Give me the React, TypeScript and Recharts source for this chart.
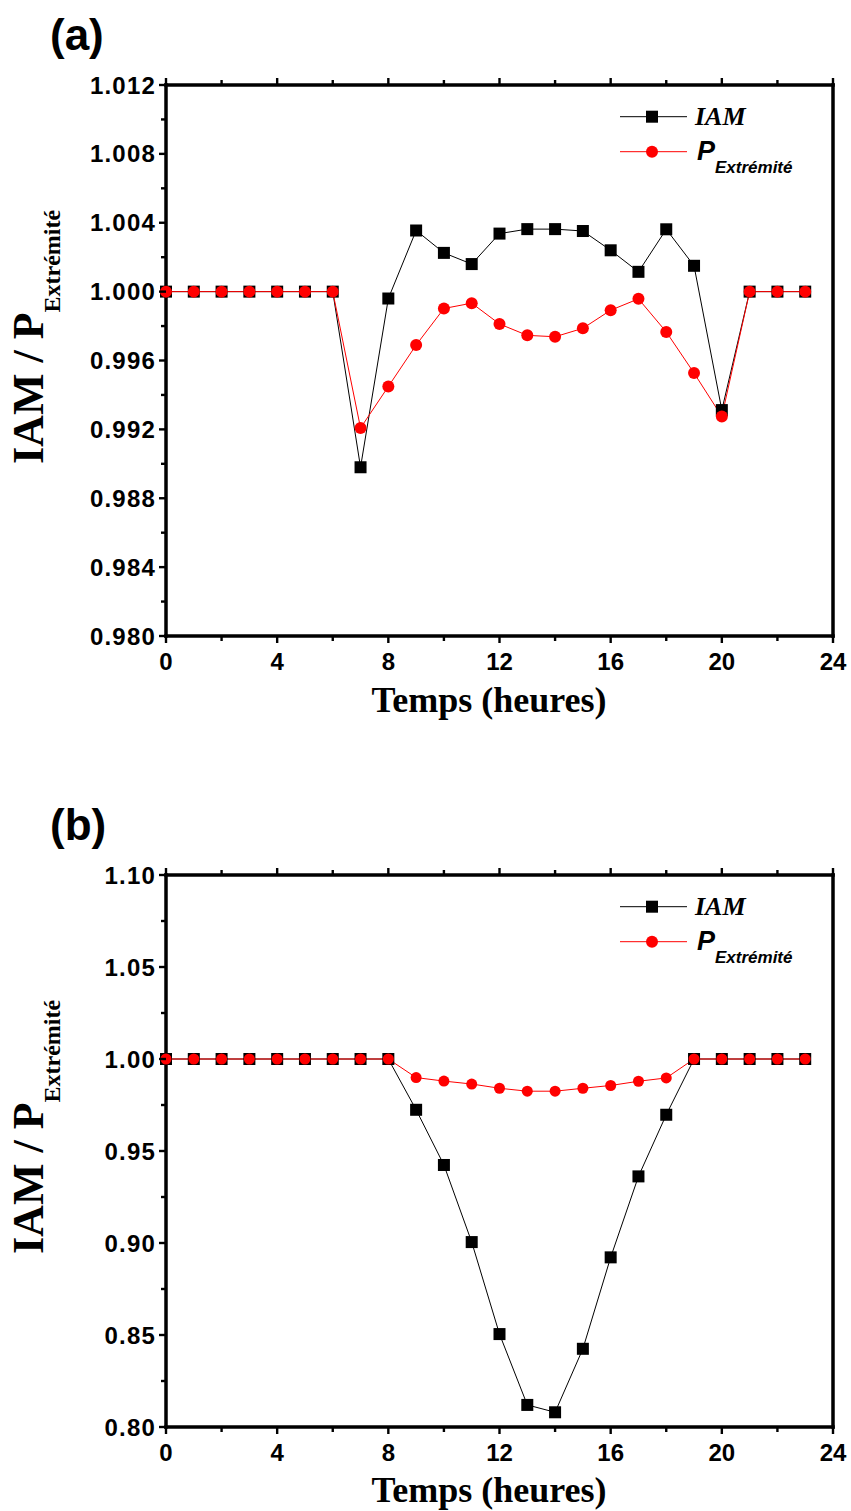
import React from 'react';
import { LineChart, Line, XAxis, YAxis, Legend } from 'recharts';

const hours = [0, 1, 2, 3, 4, 5, 6, 7, 8, 9, 10, 11, 12, 13, 14, 15, 16, 17, 18, 19, 20, 21, 22, 23];

const iamA = [1.0, 1.0, 1.0, 1.0, 1.0, 1.0, 1.0, 0.9898, 0.9996, 1.00355, 1.00225, 1.0016, 1.00337, 1.00363, 1.00363, 1.00352, 1.0024, 1.00115, 1.00362, 1.0015, 0.99312, 1.0, 1.0, 1.0];
const pA = [1.0, 1.0, 1.0, 1.0, 1.0, 1.0, 1.0, 0.99208, 0.99449, 0.9969, 0.99902, 0.99933, 0.99812, 0.99746, 0.99738, 0.99787, 0.99892, 0.99958, 0.99766, 0.99527, 0.99275, 1.0, 1.0, 1.0];

const iamB = [1.0, 1.0, 1.0, 1.0, 1.0, 1.0, 1.0, 1.0, 1.0, 0.9724, 0.9424, 0.9005, 0.8505, 0.812, 0.808, 0.8425, 0.8922, 0.9362, 0.9697, 1.0, 1.0, 1.0, 1.0, 1.0];
const pB = [1.0, 1.0, 1.0, 1.0, 1.0, 1.0, 1.0, 1.0, 1.0, 0.9899, 0.988, 0.9864, 0.9841, 0.9825, 0.9825, 0.9841, 0.9856, 0.9879, 0.9897, 1.0, 1.0, 1.0, 1.0, 1.0];

const xTicks = [0, 2, 4, 6, 8, 10, 12, 14, 16, 18, 20, 22, 24];
const yTicksA = [0.98, 0.982, 0.984, 0.986, 0.988, 0.99, 0.992, 0.994, 0.996, 0.998, 1.0, 1.002, 1.004, 1.006, 1.008, 1.01, 1.012];
const yTicksB = [0.8, 0.825, 0.85, 0.875, 0.9, 0.925, 0.95, 0.975, 1.0, 1.025, 1.05, 1.075, 1.1];

const dataA = hours.map((h, i) => ({ h, iam: iamA[i], p: pA[i] }));
const dataB = hours.map((h, i) => ({ h, iam: iamB[i], p: pB[i] }));

const SANS = "'Liberation Sans', Arial, sans-serif";
const SERIF = "'Liberation Serif', 'Times New Roman', serif";
const axisStyle = { stroke: '#000', strokeWidth: 3.5, strokeLinecap: 'square' as const };

function XTick(p: any) {
  const { x, y, payload, side } = p;
  const v = payload.value;
  const major = v % 4 === 0;
  const len = major ? 7 : 5;
  const d = side === 'bottom' ? 1 : -1;
  return (
    <g>
      <line x1={x} x2={x} y1={y} y2={y + d * len} stroke="#000" strokeWidth={2.4} />
      {side === 'bottom' && major ? (
        <text x={x} y={y + 34} textAnchor="middle" fontFamily={SANS} fontWeight="bold" fontSize={24} fill="#000">
          {v}
        </text>
      ) : null}
    </g>
  );
}

function YTick(p: any) {
  const { x, y, payload, index, side, digits } = p;
  const major = index % 2 === 0;
  const len = major ? 7 : 5;
  const d = side === 'left' ? -1 : 1;
  return (
    <g>
      <line x1={x} x2={x + d * len} y1={y} y2={y} stroke="#000" strokeWidth={2.4} />
      {side === 'left' && major ? (
        <text x={x - 10} y={y + 8.5} textAnchor="end" fontFamily={SANS} fontWeight="bold" fontSize={24} letterSpacing={1.2} fill="#000">
          {Number(payload.value).toFixed(digits)}
        </text>
      ) : null}
    </g>
  );
}

function YLabel() {
  return (
    <text transform="rotate(-90)" x={-464} y={43} fontFamily={SERIF} fontWeight="bold" fontSize={44} fill="#000">
      IAM / P
      <tspan fontSize={24} dy={17}>Extrémité</tspan>
    </text>
  );
}

function XLabel() {
  return (
    <text x={489} y={712} textAnchor="middle" fontFamily={SERIF} fontWeight="bold" fontSize={36} fill="#000">
      Temps (heures)
    </text>
  );
}

function LegendBox() {
  return (
    <svg width={220} height={90} style={{ overflow: 'visible' }}>
      <line x1={20} x2={87} y1={21.7} y2={21.7} stroke="#000" strokeWidth={1} />
      <rect x={46} y={15.7} width={12} height={12} fill="#000" />
      <text x={95} y={30} fontFamily={SERIF} fontWeight="bold" fontStyle="italic" fontSize={26} fill="#000">
        IAM
      </text>
      <line x1={20} x2={87} y1={56.7} y2={56.7} stroke="#ff0000" strokeWidth={1} />
      <circle cx={52} cy={56.7} r={6} fill="#ff0000" />
      <text x={97} y={65} fontFamily={SANS} fontWeight="bold" fontStyle="italic" fontSize={27} fill="#000">
        P
      </text>
      <text x={115} y={78} fontFamily={SANS} fontWeight="bold" fontStyle="italic" fontSize={17} fill="#000">
        Extrémité
      </text>
    </svg>
  );
}

const renderSquare = (props: any) => {
  const { cx, cy, index } = props;
  if (cx == null || cy == null) return <g key={`sq-${index}`} />;
  return <rect key={`sq-${index}`} x={cx - 6} y={cy - 6} width={12} height={12} fill="#000" />;
};

function Panel(props: { data: any[]; yTicks: number[]; domain: [number, number]; digits: number; height: number; bottom: number; r: number }) {
  const { data, yTicks, domain, digits, height, bottom, r } = props;
  return (
    <LineChart width={851} height={height} data={data} margin={{ top: 75, right: 8, left: 86, bottom }}>
      <XAxis
        xAxisId={0}
        dataKey="h"
        type="number"
        domain={[0, 24]}
        ticks={xTicks}
        interval={0}
        tickSize={0}
        tickMargin={0}
        tickLine={false}
        axisLine={axisStyle}
        height={40}
        tick={(p: any) => <XTick {...p} side="bottom" />}
        label={<XLabel />}
      />
      <XAxis
        xAxisId="top"
        orientation="top"
        dataKey="h"
        type="number"
        domain={[0, 24]}
        ticks={xTicks}
        interval={0}
        tickSize={0}
        tickMargin={0}
        tickLine={false}
        axisLine={axisStyle}
        height={10}
        tick={(p: any) => <XTick {...p} side="top" />}
      />
      <YAxis
        yAxisId={0}
        type="number"
        domain={domain}
        ticks={yTicks}
        interval={0}
        tickSize={0}
        tickMargin={0}
        tickLine={false}
        axisLine={axisStyle}
        width={80}
        tick={(p: any) => <YTick {...p} side="left" digits={digits} />}
        label={<YLabel />}
      />
      <YAxis
        yAxisId="right"
        orientation="right"
        type="number"
        domain={domain}
        ticks={yTicks}
        interval={0}
        tickSize={0}
        tickMargin={0}
        tickLine={false}
        axisLine={axisStyle}
        width={10}
        tick={(p: any) => <YTick {...p} side="right" digits={digits} />}
      />
      <Legend
        layout="vertical"
        align="center"
        verticalAlign="middle"
        wrapperStyle={{ left: 600, top: 95, width: 220, height: 90 }}
        content={() => <LegendBox />}
      />
      <Line
        xAxisId={0}
        yAxisId={0}
        type="linear"
        dataKey="iam"
        name="IAM"
        stroke="#000"
        strokeWidth={1}
        dot={renderSquare}
        activeDot={false}
        isAnimationActive={false}
      />
      <Line
        xAxisId={0}
        yAxisId={0}
        type="linear"
        dataKey="p"
        name="P Extrémité"
        stroke="#ff0000"
        strokeWidth={1}
        dot={{ r, fill: '#ff0000', stroke: '#ff0000', strokeWidth: 0 }}
        activeDot={false}
        isAnimationActive={false}
      />
    </LineChart>
  );
}

export default function App() {
  return (
    <div style={{ position: 'absolute', left: 0, top: 0, width: 851, height: 1511, background: '#fff' }}>
      <div style={{ position: 'absolute', left: 0, top: 0 }}>
        <Panel data={dataA} yTicks={yTicksA} domain={[0.98, 1.012]} digits={3} height={790} bottom={114} r={6} />
      </div>
      <div style={{ position: 'absolute', left: 0, top: 790 }}>
        <Panel data={dataB} yTicks={yTicksB} domain={[0.8, 1.1]} digits={2} height={721} bottom={44} r={5.5} />
      </div>
      <svg width={851} height={1511} style={{ position: 'absolute', left: 0, top: 0, pointerEvents: 'none' }}>
        <text x={50} y={50} fontFamily={SANS} fontWeight="bold" fontSize={44} fill="#000">(a)</text>
        <text x={50} y={840} fontFamily={SANS} fontWeight="bold" fontSize={44} fill="#000">(b)</text>
      </svg>
    </div>
  );
}
